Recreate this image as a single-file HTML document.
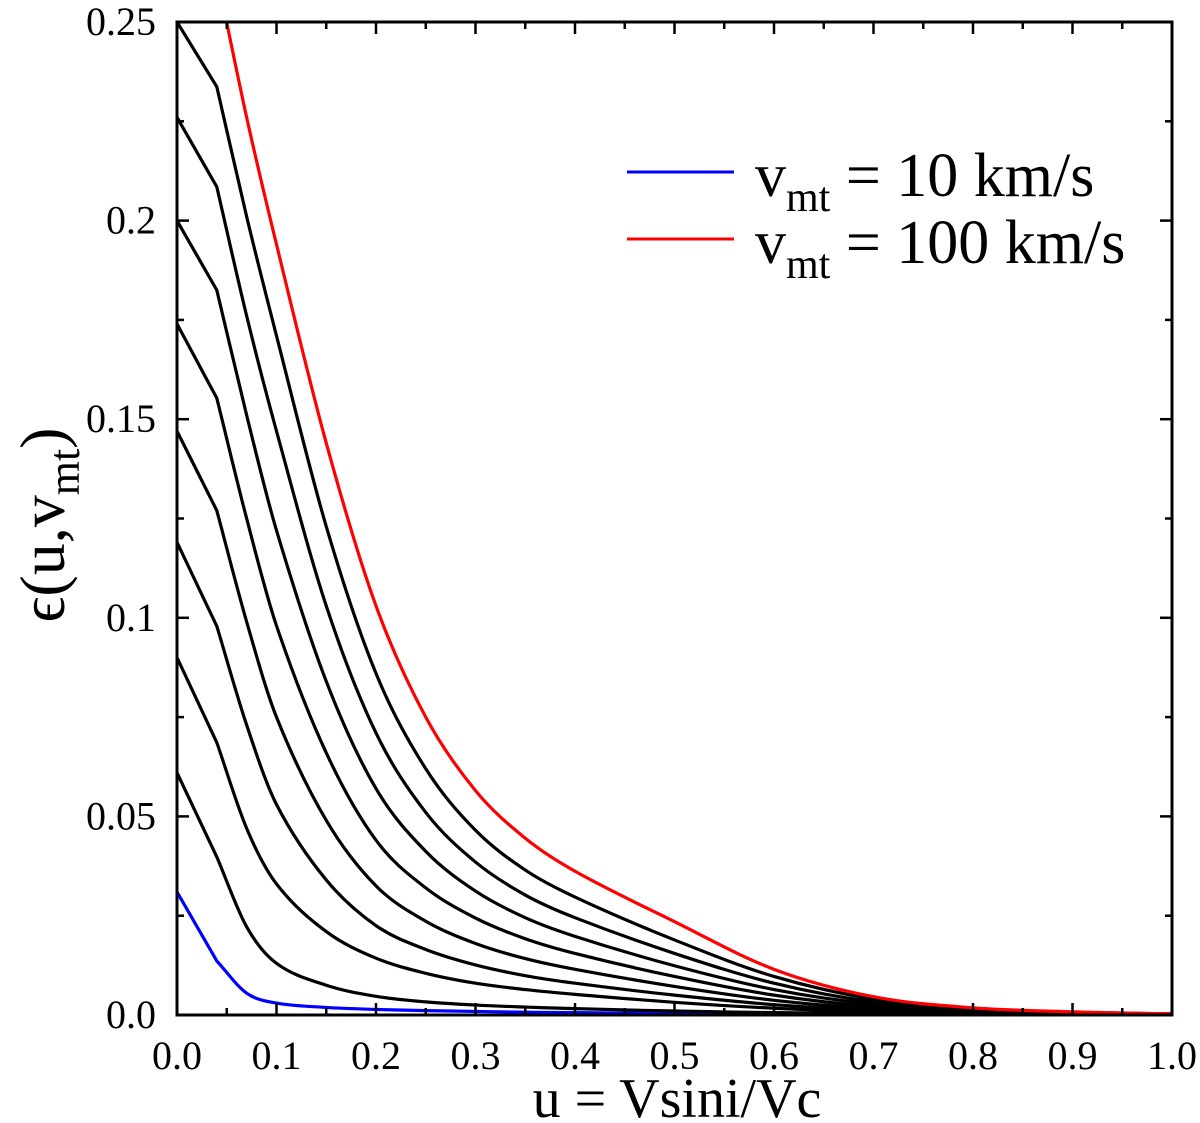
<!DOCTYPE html>
<html><head><meta charset="utf-8"><style>
html,body{margin:0;padding:0;background:#fff;}
svg{display:block;font-family:"Liberation Serif",serif;}
</style></head><body>
<svg id="chart" width="1200" height="1123" viewBox="0 0 1200 1123" xmlns="http://www.w3.org/2000/svg">
<defs><clipPath id="plotclip"><rect x="177" y="22" width="995" height="993"/></clipPath></defs>
<g id="curves" clip-path="url(#plotclip)"></g>
<rect x="177" y="22" width="995" height="993" fill="none" stroke="#000" stroke-width="3"/>
<g id="ticks"></g>
<g id="labels" font-size="40"></g>
<text x="677" y="1117" text-anchor="middle" font-size="56">u = Vsini/Vc</text>
<text transform="translate(64,525) rotate(-90)" text-anchor="middle" font-size="64">ϵ(u,v<tspan font-size="44" dy="15">mt</tspan><tspan dy="-15">)</tspan></text>
<g>
<g>
<line x1="627" y1="172" x2="734" y2="172" stroke="#0000ff" stroke-width="3"/>
<text x="755" y="196" font-size="62">v<tspan font-size="42" dy="15">mt</tspan><tspan dy="-15"> = 10 km/s</tspan></text>
</g>
<g>
<line x1="627" y1="239" x2="734" y2="239" stroke="#ff0000" stroke-width="3"/>
<text x="755" y="263" font-size="62">v<tspan font-size="42" dy="15">mt</tspan><tspan dy="-15"> = 100 km/s</tspan></text>
</g>
</g>
</svg>
<script>
const uGrid = [0, 0.04, 0.07, 0.1, 0.15, 0.2, 0.25, 0.3, 0.35, 0.4, 0.5, 0.6, 0.7, 0.8, 0.9, 1.0];
const vmt10  = [0.031, 0.0136, 0.0055, 0.003, 0.0019, 0.0014, 0.0011, 0.0009, 0.0007, 0.0006, 0.0004, 0.0003, 0.0002, 0.0001, 0.00005, 0.00002];
const vmt20  = [0.061, 0.0398, 0.0222, 0.013, 0.0075, 0.0047, 0.0033, 0.0025, 0.002, 0.0016, 0.001, 0.0006, 0.0004, 0.0002, 0.0001, 0.00005];
const vmt30  = [0.090, 0.0686, 0.047, 0.033, 0.021, 0.0143, 0.0105, 0.008, 0.0064, 0.0052, 0.0032, 0.0017, 0.0008, 0.0004, 0.0002, 0.00007];
const vmt40  = [0.119, 0.0979, 0.073, 0.053, 0.034, 0.0225, 0.0165, 0.0126, 0.0099, 0.008, 0.005, 0.0026, 0.0012, 0.0005, 0.0002, 0.0001];
const vmt50  = [0.147, 0.127, 0.099, 0.075, 0.049, 0.0325, 0.0236, 0.018, 0.0142, 0.0115, 0.0072, 0.0037, 0.0016, 0.0007, 0.0003, 0.00012];
const vmt60  = [0.174, 0.1553, 0.125, 0.098, 0.066, 0.044, 0.032, 0.0244, 0.0192, 0.0155, 0.0097, 0.005, 0.0021, 0.0009, 0.0004, 0.00015];
const vmt70  = [0.200, 0.1825, 0.151, 0.122, 0.084, 0.057, 0.0412, 0.0312, 0.0245, 0.0198, 0.0124, 0.0064, 0.0027, 0.0011, 0.0005, 0.0002];
const vmt80  = [0.226, 0.2085, 0.176, 0.147, 0.103, 0.071, 0.051, 0.0385, 0.0302, 0.0245, 0.0155, 0.008, 0.0033, 0.0014, 0.0006, 0.00025];
const vmt90  = [0.250, 0.2337, 0.201, 0.171, 0.123, 0.086, 0.062, 0.0465, 0.0365, 0.0297, 0.0189, 0.0097, 0.004, 0.0016, 0.0007, 0.00028];
const vmt100 = [0.310, 0.262, 0.226, 0.194, 0.144, 0.103, 0.075, 0.0565, 0.0445, 0.0362, 0.0235, 0.0115, 0.0046, 0.0018, 0.0008, 0.0003];
const seriesList = [vmt10, vmt20, vmt30, vmt40, vmt50, vmt60, vmt70, vmt80, vmt90, vmt100];
const seriesNames = ['curve-vmt-10','curve-vmt-20','curve-vmt-30','curve-vmt-40','curve-vmt-50','curve-vmt-60','curve-vmt-70','curve-vmt-80','curve-vmt-90','curve-vmt-100'];
const xTicks = [0, 0.1, 0.2, 0.3, 0.4, 0.5, 0.6, 0.7, 0.8, 0.9, 1.0];
const xTickLabels = ['0.0','0.1','0.2','0.3','0.4','0.5','0.6','0.7','0.8','0.9','1.0'];
const yTicks = [0, 0.05, 0.1, 0.15, 0.2, 0.25];
const yTickLabels = ['0.0','0.05','0.1','0.15','0.2','0.25'];

const X0=177, X1=1172, Y0=1015, Y1=22;
function xs(u){return X0+(u-0)/(1-0)*(X1-X0);}
function ys(e){return Y0-(e-0)/(0.25-0)*(Y0-Y1);}
const NS='http://www.w3.org/2000/svg';

function buildPath(xa, ya){
  const n=xa.length, m=new Array(n).fill(0);
  for(let i=1;i<n-1;i++){ m[i]=(ya[i+1]-ya[i-1])/(xa[i+1]-xa[i-1]); }
  m[1]=(ya[2]-ya[1])/(xa[2]-xa[1]);
  m[n-1]=(ya[n-1]-ya[n-2])/(xa[n-1]-xa[n-2]);
  let p='M'+xs(xa[0]).toFixed(2)+','+ys(ya[0]).toFixed(2)+' L'+xs(xa[1]).toFixed(2)+','+ys(ya[1]).toFixed(2);
  for(let i=1;i<n-1;i++){
    const h=xa[i+1]-xa[i];
    const c1x=xa[i]+h/3, c1y=ya[i]+m[i]*h/3, c2x=xa[i+1]-h/3, c2y=ya[i+1]-m[i+1]*h/3;
    p+=' C'+xs(c1x).toFixed(2)+','+ys(c1y).toFixed(2)+' '+xs(c2x).toFixed(2)+','+ys(c2y).toFixed(2)+' '+xs(xa[i+1]).toFixed(2)+','+ys(ya[i+1]).toFixed(2);
  }
  return p;
}
const cg=document.getElementById('curves');
seriesList.forEach((s,k)=>{
  const path=document.createElementNS(NS,'path');
  path.setAttribute('d',buildPath(uGrid,s));
  path.setAttribute('fill','none');
  path.setAttribute('stroke', k===0?'#0000ff':(k===seriesList.length-1?'#ff0000':'#000'));
  path.setAttribute('stroke-width','3.2');
  path.setAttribute('stroke-linejoin','round');
  
  
  cg.appendChild(path);
});
const tg=document.getElementById('ticks'), lg=document.getElementById('labels');
function tick(x1,y1,x2,y2){const l=document.createElementNS(NS,'line');l.setAttribute('x1',x1);l.setAttribute('y1',y1);l.setAttribute('x2',x2);l.setAttribute('y2',y2);l.setAttribute('stroke','#000');l.setAttribute('stroke-width','2.5');


tg.appendChild(l);}
for(let i=0;i<=20;i++){const u=i*0.05, x=xs(u), L=(i%2===0)?12:7; tick(x,Y0,x,Y0-L); tick(x,Y1,x,Y1+L);}
for(let i=0;i<=10;i++){const e=i*0.025, y=ys(e), L=(i%2===0)?12:7; tick(X0,y,X0+L,y); tick(X1,y,X1-L,y);}
xTicks.forEach((u,i)=>{const t=document.createElementNS(NS,'text');t.setAttribute('x',xs(u));t.setAttribute('y',1069);t.setAttribute('text-anchor','middle');t.textContent=xTickLabels[i];


lg.appendChild(t);});
yTicks.forEach((e,i)=>{const t=document.createElementNS(NS,'text');t.setAttribute('x',156);t.setAttribute('y',ys(e)+13);t.setAttribute('text-anchor','end');t.textContent=yTickLabels[i];


lg.appendChild(t);});
</script>
</body></html>
